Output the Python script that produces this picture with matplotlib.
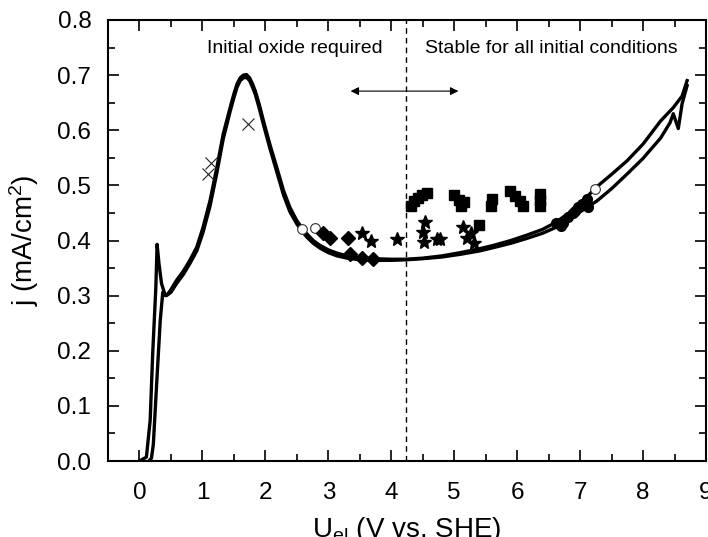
import matplotlib
matplotlib.use("Agg")
import matplotlib.pyplot as plt
from matplotlib.ticker import MultipleLocator, FormatStrFormatter

plt.rcParams['font.family'] = ['Liberation Sans', 'DejaVu Sans']
plt.rcParams['mathtext.fontset'] = 'custom'
plt.rcParams['mathtext.rm'] = 'Liberation Sans'
plt.rcParams['mathtext.it'] = 'Liberation Sans'

# Anodic sweep (with spike at low potential)
fwd_x = [0.00, 0.11, 0.17, 0.21, 0.26, 0.28, 0.31, 0.35, 0.41, 0.45, 0.50, 0.59, 0.70, 0.80, 0.91, 1.01, 1.12,
         1.23, 1.33, 1.44, 1.50, 1.55, 1.60, 1.65, 1.70, 1.75, 1.80, 1.84, 1.90, 1.97, 2.07, 2.18, 2.29, 2.39,
         2.50, 2.58, 2.66, 2.76, 2.87, 3.00, 3.14, 3.30, 3.50, 3.70, 4.00, 4.24, 4.50, 4.80, 5.10, 5.40, 5.62,
         5.90, 6.16, 6.40, 6.60, 6.80, 7.00, 7.25, 7.50, 7.75, 8.00, 8.28, 8.48, 8.62, 8.70]
fwd_y = [0.000, 0.007, 0.074, 0.195, 0.315, 0.393, 0.358, 0.322, 0.300, 0.303, 0.311, 0.328, 0.345, 0.364, 0.388,
         0.424, 0.472, 0.533, 0.593, 0.641, 0.666, 0.684, 0.695, 0.700, 0.701, 0.695, 0.683, 0.671, 0.648, 0.617,
         0.575, 0.533, 0.490, 0.460, 0.436, 0.423, 0.412, 0.400, 0.391, 0.383, 0.377, 0.372, 0.369, 0.367, 0.366,
         0.366, 0.368, 0.372, 0.378, 0.385, 0.391, 0.400, 0.410, 0.420, 0.432, 0.448, 0.466, 0.496, 0.520, 0.545,
         0.575, 0.617, 0.641, 0.662, 0.690]

# Cathodic sweep (return branch)
rev_x = [0.15, 0.19, 0.22, 0.27, 0.33, 0.37, 0.43, 0.50, 0.59, 0.70, 0.80, 0.91, 1.01, 1.12, 1.23, 1.33, 1.44,
         1.50, 1.55, 1.60, 1.65, 1.70, 1.75, 1.80, 1.84, 1.90, 1.97, 2.07, 2.18, 2.29, 2.39, 2.50, 2.58, 2.66,
         2.76, 2.87, 3.00, 3.14, 3.30, 3.50, 3.70, 4.00, 4.24, 4.50, 4.80, 5.10, 5.40, 5.62, 5.90, 6.16, 6.40,
         6.60, 6.80, 7.00, 7.27, 7.50, 7.75, 8.00, 8.28, 8.43, 8.48, 8.56, 8.62, 8.70]
rev_y = [0.000, 0.005, 0.030, 0.134, 0.255, 0.306, 0.300, 0.306, 0.322, 0.339, 0.358, 0.381, 0.415, 0.462, 0.523,
         0.584, 0.634, 0.659, 0.678, 0.690, 0.695, 0.696, 0.690, 0.677, 0.665, 0.641, 0.610, 0.568, 0.525, 0.482,
         0.452, 0.430, 0.417, 0.406, 0.395, 0.386, 0.378, 0.372, 0.368, 0.365, 0.364, 0.364, 0.365, 0.367, 0.370,
         0.375, 0.381, 0.387, 0.395, 0.404, 0.413, 0.423, 0.436, 0.452, 0.472, 0.494, 0.521, 0.549, 0.586, 0.614,
         0.630, 0.603, 0.648, 0.681]

cross_x = [1.13, 1.09, 1.72]
cross_y = [0.540, 0.520, 0.612]

open_circ_x = [2.58, 2.79, 7.24]
open_circ_y = [0.420, 0.422, 0.494]

diamond_x = [2.92, 3.03, 3.31, 3.35, 3.54, 3.71]
diamond_y = [0.413, 0.405, 0.405, 0.375, 0.369, 0.367]

star_x = [3.54, 3.68, 4.09, 4.54, 4.51, 4.52, 4.72, 4.78, 5.14, 5.27, 5.21, 5.32]
star_y = [0.413, 0.400, 0.402, 0.434, 0.416, 0.398, 0.402, 0.402, 0.424, 0.414, 0.404, 0.395]

square_x = [4.32, 4.36, 4.43, 4.49, 4.57, 5.00, 5.08, 5.16, 5.10, 5.40, 5.60, 5.59,
            5.89, 5.97, 6.05, 6.10, 6.37, 6.37, 6.37]
square_y = [0.463, 0.472, 0.478, 0.483, 0.487, 0.483, 0.474, 0.470, 0.462, 0.429, 0.476, 0.463,
            0.489, 0.480, 0.472, 0.463, 0.485, 0.474, 0.463]

circle_x = [6.61, 6.69, 6.73, 6.80, 6.88, 6.92, 6.97, 7.03, 7.11, 7.13]
circle_y = [0.431, 0.427, 0.432, 0.442, 0.449, 0.454, 0.460, 0.467, 0.476, 0.460]

boundary_x = 4.24
arrow_left, arrow_right, arrow_y = 3.31, 5.11, 0.671
label_left = "Initial oxide required"
label_right = "Stable for all initial conditions"

fig = plt.figure(figsize=(7.08, 5.37), dpi=100)
ax = fig.add_axes([108/708, 1-461/537, 598/708, 441/537])

ax.plot(fwd_x, fwd_y, color='black', lw=2.4, solid_joinstyle='round')
ax.plot(rev_x, rev_y, color='black', lw=2.4, solid_joinstyle='round')

ax.plot(cross_x, cross_y, ls='none', marker='x', ms=8, mew=0.8, color='#222222')
ax.plot(open_circ_x, open_circ_y, ls='none', marker='o', ms=7, mfc='white', mec='#333333', mew=0.8)
ax.plot(diamond_x, diamond_y, ls='none', marker='D', ms=7.5, color='black')
ax.plot(star_x, star_y, ls='none', marker='*', ms=10, color='black')
ax.plot(square_x, square_y, ls='none', marker='s', ms=6.5, color='black')
ax.plot(circle_x, circle_y, ls='none', marker='o', ms=7, color='black')

ax.axvline(boundary_x, color='black', lw=1, ls=(0, (4, 3)))
ax.annotate('', xy=(arrow_left, arrow_y), xytext=(arrow_right, arrow_y),
            arrowprops=dict(arrowstyle='<|-|>', color='black', lw=0.8, mutation_scale=12))
ax.text(2.46, 0.749, label_left, ha='center', va='center', fontsize=14)
ax.text(6.54, 0.749, label_right, ha='center', va='center', fontsize=14)

ax.set_xlim(-0.5, 9)
ax.set_ylim(0, 0.8)
ax.xaxis.set_major_locator(MultipleLocator(1))
ax.xaxis.set_minor_locator(MultipleLocator(0.5))
ax.yaxis.set_major_locator(MultipleLocator(0.1))
ax.yaxis.set_minor_locator(MultipleLocator(0.05))
ax.yaxis.set_major_formatter(FormatStrFormatter('%.1f'))
ax.tick_params(which='both', direction='in', top=True, right=True, width=1.2, labelsize=17.5)
ax.tick_params(which='major', length=8)
ax.tick_params(axis='x', which='major', pad=15)
ax.tick_params(axis='y', which='major', pad=12)
ax.tick_params(which='minor', length=5)
for s in ax.spines.values():
    s.set_linewidth(1.5)

ax.set_xlabel(r'U$_{\rm el}$ (V vs. SHE)', fontsize=20, labelpad=8)
ax.set_ylabel(r'j (mA/cm$^{2}$)', fontsize=20, labelpad=12)

fig.savefig('out.png', dpi=100)
